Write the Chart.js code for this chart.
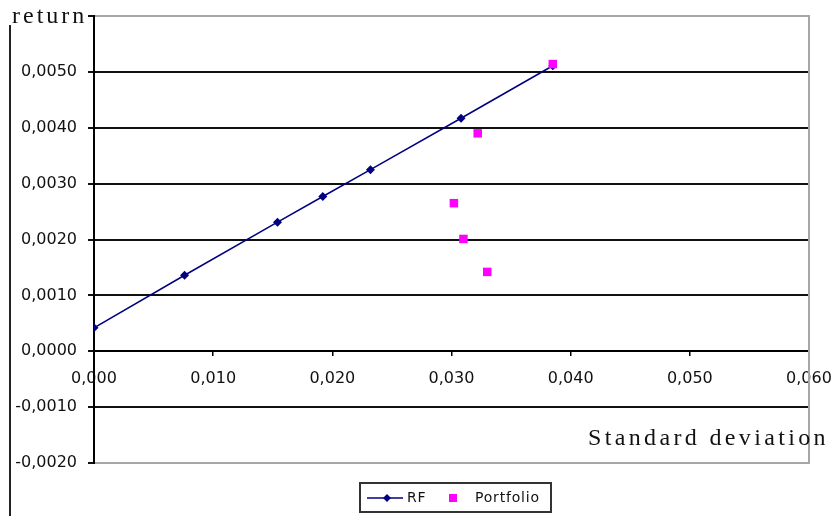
<!DOCTYPE html>
<html>
<head>
<meta charset="utf-8">
<script src="https://cdn.jsdelivr.net/npm/chart.js@4"></script>
<style>
  html, body { margin: 0; padding: 0; background: #fff; }
  canvas { display: block; }
</style>
</head>
<body>
<canvas id="chartCanvas" width="838" height="516"></canvas>
<script>
// RF line (capital market line) - std dev / return
const rfX = [0, 0.0076, 0.0154, 0.0192, 0.0232, 0.0308, 0.0385];
const rfY = [0.00042, 0.00136, 0.00231, 0.00277, 0.00325, 0.00417, 0.00511];

// Portfolios
const pfX = [0.0385, 0.0322, 0.0302, 0.0310, 0.0330];
const pfY = [0.00514, 0.0039, 0.00265, 0.00201, 0.00142];

// axis ranges / tick labels
const xTicks = [0, 0.01, 0.02, 0.03, 0.04, 0.05, 0.06];
const yTicks = [-0.002, -0.001, 0, 0.001, 0.002, 0.003, 0.004, 0.005, 0.006];

const seriesNames = ['RF', 'Portfolio'];

function commaFmt(v, digits) {
    return (Math.round(v * 1e6) / 1e6).toFixed(digits).replace('.', ',');
}

// extra drawing: titles, right border, left frame line, legend
const extras = {
    id: 'extras',
    afterDraw(chart) {
        const ctx = chart.ctx;
        const a = chart.chartArea;
        ctx.save();

        // right border of plot area
        ctx.strokeStyle = '#a6a6a6';
        ctx.lineWidth = 2;
        ctx.beginPath();
        ctx.moveTo(a.right, a.top - 1);
        ctx.lineTo(a.right, a.bottom + 1);
        ctx.stroke();

        // left frame line
        ctx.strokeStyle = '#222';
        ctx.lineWidth = 2;
        ctx.beginPath();
        ctx.moveTo(10, 25);
        ctx.lineTo(10, 516);
        ctx.stroke();

        // axis titles
        ctx.fillStyle = '#111';
        ctx.font = '24px "Liberation Serif", serif';
        ctx.letterSpacing = '3px';
        ctx.textBaseline = 'alphabetic';
        ctx.textAlign = 'left';
        ctx.fillText('return', 12, 23);
        ctx.letterSpacing = '3.35px';
        ctx.fillText('Standard deviation', 588, 445);

        // legend
        ctx.letterSpacing = '0px';
        ctx.strokeStyle = '#333';
        ctx.lineWidth = 2;
        ctx.strokeRect(360, 483, 191, 29);

        ctx.strokeStyle = '#000080';
        ctx.lineWidth = 1.5;
        ctx.beginPath();
        ctx.moveTo(367, 498);
        ctx.lineTo(403, 498);
        ctx.stroke();
        ctx.fillStyle = '#000080';
        ctx.beginPath();
        ctx.moveTo(387, 494);
        ctx.lineTo(391, 498);
        ctx.lineTo(387, 502);
        ctx.lineTo(383, 498);
        ctx.closePath();
        ctx.fill();

        ctx.fillStyle = '#ff00ff';
        ctx.fillRect(449, 494, 8, 8);

        ctx.fillStyle = '#111';
        ctx.font = '14px "DejaVu Sans", sans-serif';
        ctx.letterSpacing = '0.8px';
        ctx.textBaseline = 'middle';
        ctx.fillText(seriesNames[0], 407, 498);
        ctx.fillText(seriesNames[1], 475, 498);

        ctx.restore();
    }
};

const ctx = document.getElementById('chartCanvas').getContext('2d');
const myChart = new Chart(ctx, {
    type: 'scatter',
    data: {
        datasets: [{
            label: seriesNames[0],
            data: rfX.map((x, i) => ({ x: x, y: rfY[i] })),
            showLine: true,
            borderColor: '#000080',
            borderWidth: 1.5,
            backgroundColor: '#000080',
            pointBackgroundColor: '#000080',
            pointBorderWidth: 0,
            pointStyle: 'rectRot',
            pointRadius: 4.5,
            order: 2
        }, {
            label: seriesNames[1],
            data: pfX.map((x, i) => ({ x: x, y: pfY[i] })),
            showLine: false,
            backgroundColor: '#ff00ff',
            pointBackgroundColor: '#ff00ff',
            pointBorderWidth: 0,
            pointStyle: 'rect',
            pointRadius: 6,
            order: 1
        }]
    },
    options: {
        responsive: false,
        animation: false,
        layout: { padding: { left: 0, top: 16, right: 29, bottom: 53 } },
        plugins: {
            legend: { display: false },
            tooltip: { enabled: false }
        },
        scales: {
            x: {
                type: 'linear',
                position: { y: 0 },
                min: xTicks[0],
                max: xTicks[xTicks.length - 1],
                afterBuildTicks: (s) => { s.ticks = xTicks.map(v => ({ value: v })); },
                afterFit: (s) => { s.paddingLeft = 0; s.paddingRight = 0; },
                grid: { drawOnChartArea: false, drawTicks: true, tickLength: 4, color: '#000', lineWidth: 1.5 },
                border: { display: true, color: '#000', width: 2 },
                ticks: {
                    callback: (v) => commaFmt(v, 3),
                    font: { family: 'DejaVu Sans', size: 16 },
                    color: '#111',
                    padding: 14,
                    maxRotation: 0
                }
            },
            y: {
                type: 'linear',
                min: yTicks[0],
                max: yTicks[yTicks.length - 1],
                afterBuildTicks: (s) => { s.ticks = yTicks.map(v => ({ value: v })); },
                afterFit: (s) => { s.width = 94; s.paddingTop = 0; s.paddingBottom = 0; },
                grid: {
                    color: (c) => (c.tick && (Math.abs(c.tick.value - 0.006) < 1e-9 || Math.abs(c.tick.value + 0.002) < 1e-9)) ? '#a6a6a6' : '#111',
                    tickColor: '#111',
                    lineWidth: 2,
                    tickLength: 6
                },
                border: { display: true, color: '#000', width: 2 },
                ticks: {
                    callback: (v) => (Math.abs(v - 0.006) < 1e-9) ? '' : commaFmt(v, 4),
                    font: { family: 'DejaVu Sans', size: 16 },
                    color: '#111',
                    padding: 11
                }
            }
        }
    },
    plugins: [extras]
});
</script>
</body>
</html>
